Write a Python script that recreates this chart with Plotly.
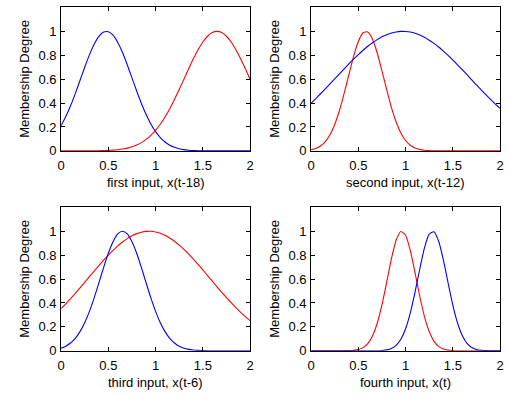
import plotly.graph_objects as go

# sample positions on the input axis
x_grid = [0.0, 0.05, 0.1, 0.15, 0.2, 0.25, 0.3, 0.35, 0.4, 0.45, 0.5,
          0.55, 0.6, 0.65, 0.7, 0.75, 0.8, 0.85, 0.9, 0.95, 1.0,
          1.05, 1.1, 1.15, 1.2, 1.25, 1.3, 1.35, 1.4, 1.45, 1.5,
          1.55, 1.6, 1.65, 1.7, 1.75, 1.8, 1.85, 1.9, 1.95, 2.0]

# membership degrees
in1_blue = [0.211, 0.287, 0.377, 0.479, 0.589, 0.700, 0.803, 0.892, 0.958, 0.994, 0.997,
            0.968, 0.907, 0.823, 0.721, 0.611, 0.501, 0.397, 0.304, 0.225, 0.161,
            0.111, 0.0745, 0.048, 0.030, 0.018, 0.0106, 0.006, 0.0033, 0.0017, 0.0009,
            0.0004, 0.0002, 0.0001, 0, 0, 0, 0, 0, 0, 0]
in1_red = [0, 0, 0.00005, 0.0001, 0.0002, 0.0003, 0.0005, 0.0009, 0.0015, 0.0025, 0.004,
           0.0065, 0.0101, 0.0155, 0.0233, 0.034, 0.049, 0.069, 0.096, 0.130, 0.172,
           0.223, 0.284, 0.353, 0.430, 0.513, 0.600, 0.687, 0.771, 0.846, 0.911,
           0.959, 0.990, 1.0, 0.990, 0.959, 0.911, 0.846, 0.771, 0.687, 0.600]

in2_red = [0.0095, 0.0204, 0.0411, 0.0772, 0.135, 0.221, 0.338, 0.481, 0.638, 0.791, 0.915,
           0.988, 0.995, 0.934, 0.819, 0.670, 0.512, 0.364, 0.242, 0.150, 0.0869,
           0.0469, 0.0236, 0.0111, 0.0049, 0.002, 0.0008, 0.0003, 0.0001, 0, 0,
           0, 0, 0, 0, 0, 0, 0, 0, 0, 0]
in2_blue = [0.399, 0.438, 0.478, 0.519, 0.561, 0.603, 0.645, 0.687, 0.728, 0.768, 0.806,
            0.842, 0.875, 0.905, 0.931, 0.954, 0.972, 0.986, 0.995, 1.0, 0.999,
            0.994, 0.984, 0.969, 0.950, 0.926, 0.899, 0.869, 0.835, 0.799, 0.760,
            0.720, 0.679, 0.637, 0.595, 0.552, 0.511, 0.470, 0.430, 0.392, 0.355]

in3_blue = [0.0218, 0.0385, 0.0647, 0.104, 0.160, 0.235, 0.330, 0.443, 0.568, 0.696, 0.816,
            0.913, 0.978, 1.0, 0.978, 0.913, 0.816, 0.696, 0.568, 0.443, 0.330,
            0.235, 0.160, 0.104, 0.0647, 0.0385, 0.0218, 0.0119, 0.0062, 0.0031, 0.0014,
            0.0007, 0.0003, 0.0001, 0, 0, 0, 0, 0, 0, 0]
in3_red = [0.353, 0.393, 0.436, 0.480, 0.526, 0.573, 0.620, 0.667, 0.713, 0.758, 0.800,
           0.840, 0.877, 0.910, 0.938, 0.962, 0.980, 0.992, 0.999, 1.0, 0.994,
           0.983, 0.966, 0.943, 0.916, 0.884, 0.848, 0.809, 0.766, 0.722, 0.676,
           0.629, 0.582, 0.535, 0.489, 0.445, 0.402, 0.361, 0.322, 0.285, 0.252]

in4_red = [0, 0, 0, 0, 0, 0.00002, 0.0001, 0.0003, 0.0011, 0.0035, 0.010,
           0.026, 0.060, 0.124, 0.230, 0.383, 0.573, 0.769, 0.925, 0.998, 0.966,
           0.839, 0.653, 0.456, 0.286, 0.161, 0.081, 0.037, 0.0149, 0.0054, 0.0018,
           0.0005, 0.0001, 0, 0, 0, 0, 0, 0, 0, 0]
in4_blue = [0, 0, 0, 0, 0, 0, 0, 0, 0, 0, 0,
            0, 0.00005, 0.0002, 0.0008, 0.0026, 0.0074, 0.0194, 0.0457, 0.0965, 0.184,
            0.317, 0.490, 0.684, 0.861, 0.975, 0.995, 0.916, 0.760, 0.567, 0.382,
            0.232, 0.127, 0.0623, 0.0277, 0.0111, 0.0040, 0.0013, 0.0004, 0.0001, 0]

x_titles = ["first input, x(t-18)", "second input, x(t-12)",
            "third input, x(t-6)", "fourth input, x(t)"]
y_title = "Membership Degree"
x_ticks = [0, 0.5, 1, 1.5, 2]
x_ticklabels = ["0", "0.5", "1", "1.5", "2"]
y_ticks = [0, 0.2, 0.4, 0.6, 0.8, 1]
y_ticklabels = ["0", "0.2", "0.4", "0.6", "0.8", "1"]

W, H = 508, 396
FONT = "Liberation Sans, Arial, sans-serif"
FS = 13
BLUE, RED = "#0000ff", "#ff0000"

panels = [
    (1, [(in1_blue, BLUE), (in1_red, RED)]),
    (2, [(in2_red, RED), (in2_blue, BLUE)]),
    (3, [(in3_red, RED), (in3_blue, BLUE)]),
    (4, [(in4_red, RED), (in4_blue, BLUE)]),
]

# panel boxes in pixels (left, right, top, bottom)
boxes = {1: (58, 250, 7.6, 154), 2: (312, 504, 7.6, 154),
         3: (58, 250, 211.6, 358), 4: (312, 504, 211.6, 358)}

fig = go.Figure()
annotations = []
for idx, curves in panels:
    sfx = "" if idx == 1 else str(idx)
    for ys, col in curves:
        fig.add_trace(go.Scatter(x=x_grid, y=ys, mode="lines",
                                 line=dict(color=col, width=1.1, shape="spline", smoothing=0.6),
                                 xaxis="x" + sfx, yaxis="y" + sfx, showlegend=False,
                                 hoverinfo="skip"))
    l, r, t, b = boxes[idx]
    xd = [l / W, r / W]
    yd = [1 - b / H, 1 - t / H]
    common = dict(showline=True, linecolor="black", linewidth=1, mirror="ticks",
                  ticks="inside", ticklen=4, tickcolor="black", tickwidth=1,
                  showgrid=False, zeroline=False, ticklabeloverflow="allow",
                  tickfont=dict(family=FONT, size=FS, color="black"))
    fig.update_layout(**{
        "xaxis" + sfx: dict(domain=xd, range=[0, 2], tickvals=x_ticks, ticktext=x_ticklabels,
                            anchor="y" + sfx, ticklabelstandoff=3, **common),
        "yaxis" + sfx: dict(domain=yd, range=[0, 1.2], tickvals=y_ticks, ticktext=y_ticklabels,
                            anchor="x" + sfx, ticklabelstandoff=1, **common),
    })
    annotations.append(dict(text=x_titles[idx - 1], xref="paper", yref="paper",
                            x=(l + r) / 2 / W, y=1 - (b + 32) / H,
                            xanchor="center", yanchor="middle", showarrow=False,
                            font=dict(family=FONT, size=FS, color="black")))
    annotations.append(dict(text=y_title, xref="paper", yref="paper",
                            x=(l - 38) / W, y=1 - (t + b) / 2 / H, textangle=-90,
                            xanchor="center", yanchor="middle", showarrow=False,
                            font=dict(family=FONT, size=FS, color="black")))

fig.update_layout(width=W, height=H, margin=dict(l=0, r=0, t=0, b=0),
                  paper_bgcolor="white", plot_bgcolor="white",
                  annotations=annotations)
fig.write_html("out.html", config={"displayModeBar": False},
               post_script="document.body.style.margin='0';document.body.style.padding='0';")
